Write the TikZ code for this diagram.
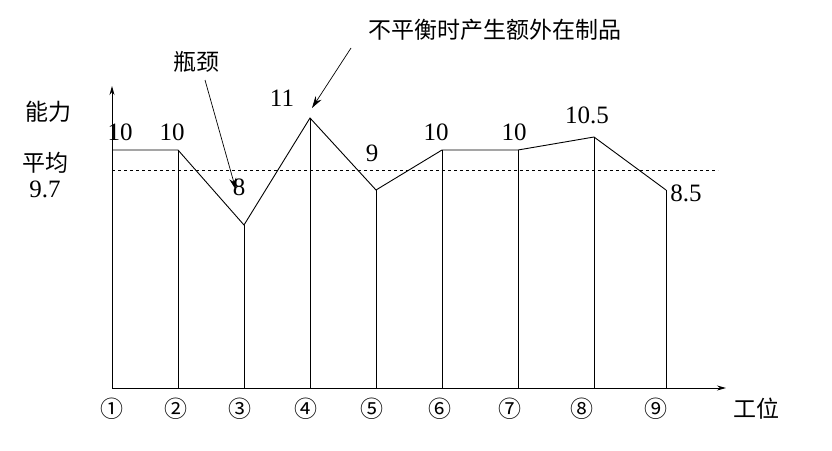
\documentclass[tikz,border=0pt]{standalone}
\usepackage{fontspec}
\setmainfont{Liberation Serif}
\newfontfamily\cjk{Noto Sans CJK SC}
\usetikzlibrary{arrows.meta}

\begin{document}
\begin{tikzpicture}[x=1pt,y=-1pt,
  lbl/.style={font=\fontsize{25}{25}\selectfont},
  zh/.style={font=\cjk\fontsize{23}{23}\selectfont},
  pointer/.style={-{Stealth[length=12pt,width=7pt]},line width=0.7pt}]
\useasboundingbox (0,0) rectangle (832,450);

% axes
\coordinate (o) at (112,388);
\draw[line width=0.9pt,-{Stealth[length=9pt,width=5pt]}] (o)--(112,86);
\draw[line width=0.9pt,-{Stealth[length=9pt,width=5pt]}] (o)--(726,388);

% capacity line
\coordinate (p1) at (112,150);
\coordinate (p2) at (178,150);
\coordinate (p3) at (244,225);
\coordinate (p4) at (310,118);
\coordinate (p5) at (376,190);
\coordinate (p6) at (442,150);
\coordinate (p7) at (518,150);
\coordinate (p8) at (594,137);
\coordinate (p9) at (666,190);
\draw[line width=0.9pt] (p1)--(p2)--(p3)--(p4)--(p5)--(p6)--(p7)--(p8)--(p9);
\foreach \i in {2,...,9}
  \draw[line width=0.9pt] (p\i)--(p\i |- o);

% average
\draw[dashed,line width=0.9pt] (112,170)--(718,170);

% values
\node[lbl] (v1) at (120,132) {10};
\node[lbl] (v2) at (172,132) {10};
\node[lbl] (v3) at (239,187) {8};
\node[lbl] (v4) at (282,98) {11};
\node[lbl] (v5) at (372,153) {9};
\node[lbl] (v6) at (436,132) {10};
\node[lbl] (v7) at (514,132) {10};
\node[lbl] (v8) at (587,115) {10.5};
\node[lbl] (v9) at (686,193) {8.5};

% stations
\foreach \x/\c [count=\k] in {112/①,176/②,240/③,306/④,372/⑤,440/⑥,510/⑦,582/⑧,656/⑨}
  \node[zh] (s\k) at (\x,409) {\c};
\node[zh] (gw) at (756,409) {工位};

% axis text
\node[zh] (nl) at (48,112) {能力};
\node[zh] (pj) at (45,163) {平均};
\node[lbl] (avg) at (45,189) {9.7};

% notes
\node[zh] (bn) at (196,62) {瓶颈};
\node[zh] (wip) at (495,30) {不平衡时产生额外在制品};
\coordinate (tailb) at (205,80);
\coordinate (tipb) at (236,190);
\draw[pointer] (tailb)--(tipb);
\coordinate (tipa) at (312,108);
\coordinate (taila) at (351,48);
\draw[pointer] (taila)--(tipa);
\end{tikzpicture}
\end{document}
